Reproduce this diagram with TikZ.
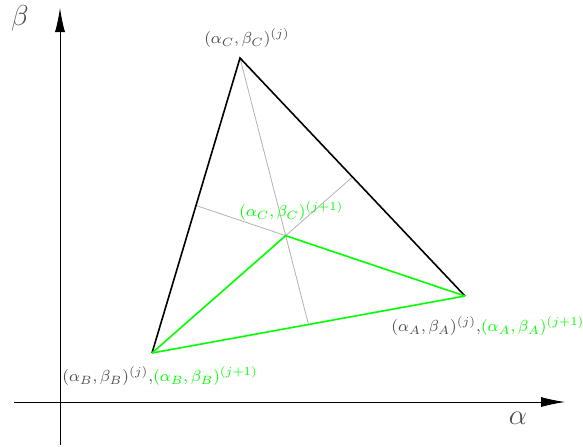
\documentclass[tikz,border=0pt]{standalone}
\usepackage{amsmath}
\usepackage{xcolor}
\usepackage{tikz}
\usetikzlibrary{arrows.meta,calc}
\definecolor{simplex}{HTML}{00FF00}
\definecolor{note}{HTML}{4D4D4D}

\begin{document}
\begin{tikzpicture}[x=0.5pt,y=-0.5pt,
  axis/.style={-{Latex[length=12pt,width=5pt]},draw=black},
  edge/.style={thick,draw=black},
  median/.style={draw=black!30},
  newedge/.style={thick,draw=simplex},
  lbl/.style={text=note,inner sep=0pt,font=\fontsize{8.5}{10}\selectfont}]
\useasboundingbox (0,0) rectangle (583,446);
% axes
\coordinate (ybot) at (60,445);
\coordinate (ytop) at (60,8);
\coordinate (xlft) at (14,402);
\coordinate (xrgt) at (565,402);
\draw[axis] (ybot) -- (ytop);
\draw[axis] (xlft) -- (xrgt);
\node[lbl,font=\Large] (betalbl) at (20,18) {$\beta$};
\node[lbl,font=\Large] (alphalbl) at (518,418) {$\alpha$};
% simplex vertices
\coordinate (C) at (240,58);
\coordinate (A) at (465,296);
\coordinate (B) at (152,353);
\coordinate (G) at ($1/3*(A)+1/3*(B)+1/3*(C)$);
\coordinate (mAB) at ($(A)!0.5!(B)$);
\coordinate (mBC) at ($(B)!0.5!(C)$);
\coordinate (mCA) at ($(C)!0.5!(A)$);
\draw[median] (C) -- (mAB);
\draw[median] (mBC) -- (G) -- (mCA);
\draw[edge] (B) -- (C) -- (A);
\draw[newedge] (B) -- (A);
\draw[newedge] (B) -- (G) -- (A);
% labels
\node[lbl] (Clbl) at (247,38) {$(\alpha_C,\beta_C)^{(j)}$};
\node[lbl,anchor=west] (Albl) at (391,326) {$(\alpha_A,\beta_A)^{(j)}$,\textcolor{simplex}{$(\alpha_A,\beta_A)^{(j+1)}$}};
\node[lbl,anchor=west] (Blbl) at (62,376) {$(\alpha_B,\beta_B)^{(j)}$,\textcolor{simplex}{$(\alpha_B,\beta_B)^{(j+1)}$}};
\node[lbl,anchor=west,text=simplex] (Glbl) at (239,211) {$(\alpha_C,\beta_C)^{(j+1)}$};
\end{tikzpicture}
\end{document}
